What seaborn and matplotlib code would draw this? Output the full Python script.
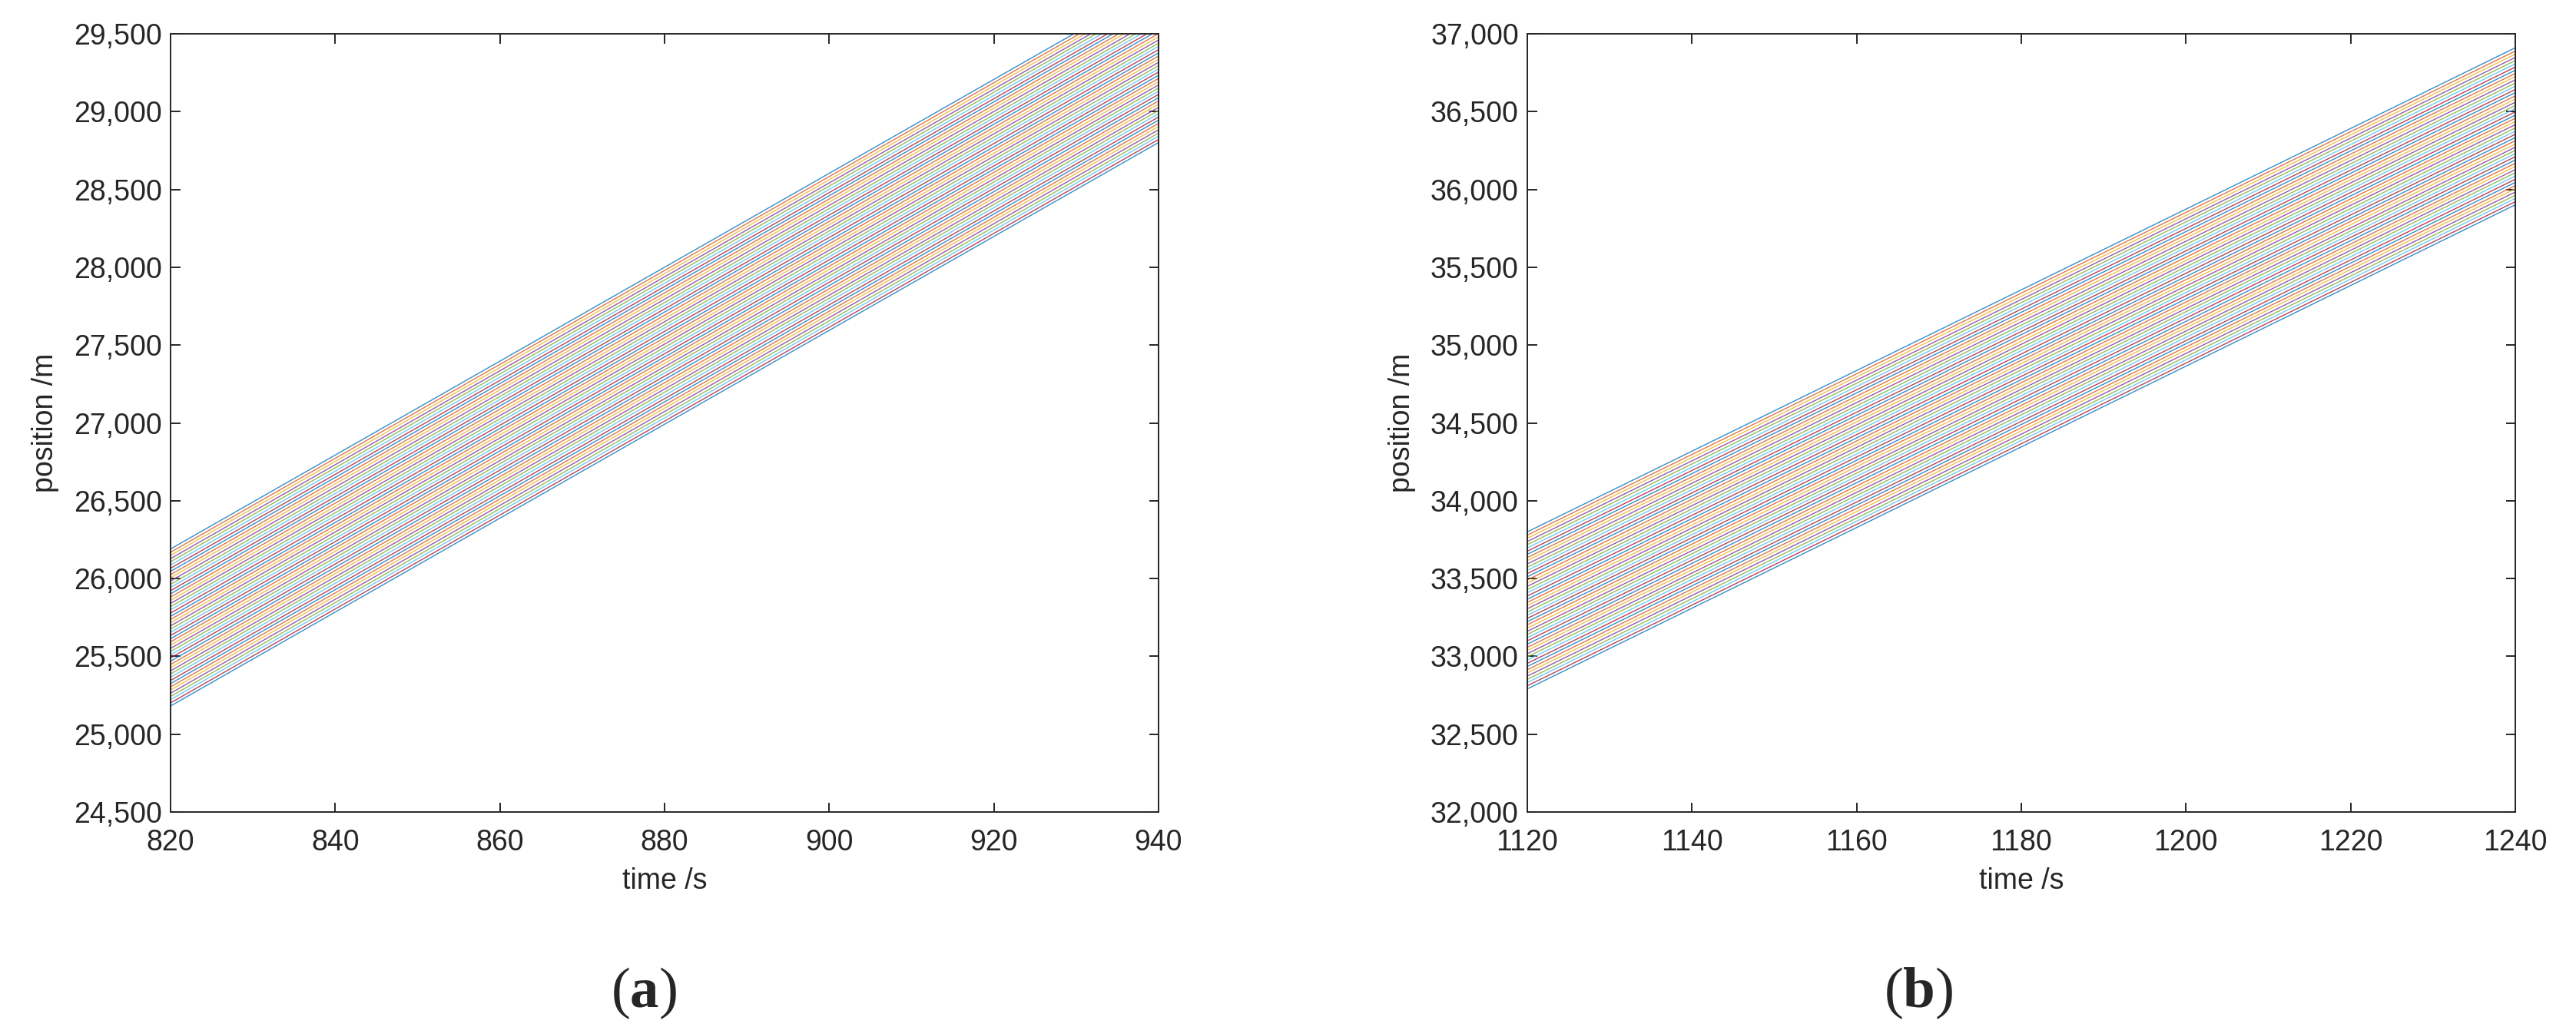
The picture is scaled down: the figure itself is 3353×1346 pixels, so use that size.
import pandas as pd
import seaborn as sns
import matplotlib.pyplot as plt
from matplotlib.ticker import StrMethodFormatter

# panel (a): vehicle positions read at the left (820 s) and right (940 s) edges
time_a = [820, 940]
start_a = [26190, 26169, 26149, 26128, 26108, 26087, 26066, 26046, 26025, 26005,
           25984, 25963, 25943, 25922, 25902, 25881, 25860, 25840, 25819, 25799,
           25778, 25757, 25737, 25716, 25696, 25675, 25654, 25634, 25613, 25593,
           25572, 25551, 25531, 25510, 25490, 25469, 25448, 25428, 25407, 25387,
           25366, 25345, 25325, 25304, 25284, 25263, 25242, 25222, 25201, 25181]
end_a = [29810, 29789, 29769, 29748, 29728, 29707, 29686, 29666, 29645, 29625,
         29604, 29583, 29563, 29542, 29522, 29501, 29480, 29460, 29439, 29419,
         29398, 29377, 29357, 29336, 29316, 29295, 29274, 29254, 29233, 29213,
         29192, 29171, 29151, 29130, 29110, 29089, 29068, 29048, 29027, 29007,
         28986, 28965, 28945, 28924, 28904, 28883, 28862, 28842, 28821, 28801]

# panel (b): positions at 1120 s and 1240 s
time_b = [1120, 1240]
start_b = [33800, 33779, 33759, 33738, 33718, 33697, 33676, 33656, 33635, 33615,
           33594, 33573, 33553, 33532, 33512, 33491, 33470, 33450, 33429, 33409,
           33388, 33367, 33347, 33326, 33306, 33285, 33264, 33244, 33223, 33203,
           33182, 33161, 33141, 33120, 33100, 33079, 33058, 33038, 33017, 32997,
           32976, 32955, 32935, 32914, 32894, 32873, 32852, 32832, 32811, 32791]
end_b = [36910, 36889, 36869, 36848, 36828, 36807, 36786, 36766, 36745, 36725,
         36704, 36683, 36663, 36642, 36622, 36601, 36580, 36560, 36539, 36519,
         36498, 36477, 36457, 36436, 36416, 36395, 36374, 36354, 36333, 36313,
         36292, 36271, 36251, 36230, 36210, 36189, 36168, 36148, 36127, 36107,
         36086, 36065, 36045, 36024, 36004, 35983, 35962, 35942, 35921, 35901]

xticks_a = [820, 840, 860, 880, 900, 920, 940]
yticks_a = [24500, 25000, 25500, 26000, 26500, 27000, 27500, 28000, 28500, 29000, 29500]
xticks_b = [1120, 1140, 1160, 1180, 1200, 1220, 1240]
yticks_b = [32000, 32500, 33000, 33500, 34000, 34500, 35000, 35500, 36000, 36500, 37000]

matlab_colors = ["#0072BD", "#D95319", "#EDB120", "#7E2F8E", "#77AC30", "#4DBEEE", "#A2142F"]


def to_long(times, start, end):
    rows = []
    for i, (p0, p1) in enumerate(zip(start, end)):
        rows.append({"vehicle": i, "time": times[0], "position": p0})
        rows.append({"vehicle": i, "time": times[1], "position": p1})
    return pd.DataFrame(rows)


df_a = to_long(time_a, start_a, end_a)
df_b = to_long(time_b, start_b, end_b)

sns.set_style("ticks")
plt.rcParams["font.family"] = ["Liberation Sans", "DejaVu Sans"]
plt.rcParams["mathtext.fontset"] = "custom"
plt.rcParams["mathtext.rm"] = "Liberation Serif"
plt.rcParams["mathtext.bf"] = "Liberation Serif:bold"

ink = "#262626"
fig = plt.figure(figsize=(16.765, 6.73), dpi=200)
ax_a = fig.add_axes([0.0662, 0.2147, 0.3835, 0.7526])
ax_b = fig.add_axes([0.5929, 0.2147, 0.3835, 0.7526])

panels = [
    (ax_a, df_a, xticks_a, yticks_a),
    (ax_b, df_b, xticks_b, yticks_b),
]

for ax, df, xt, yt in panels:
    n = df["vehicle"].nunique()
    pal = [matlab_colors[i % len(matlab_colors)] for i in range(n)]
    sns.lineplot(data=df, x="time", y="position", hue="vehicle", palette=pal,
                 linewidth=0.5, alpha=0.8, legend=False, ax=ax, estimator=None, sort=False)
    ax.set_xlim(xt[0], xt[-1])
    ax.set_ylim(yt[0], yt[-1])
    ax.set_xticks(xt)
    ax.set_yticks(yt)
    ax.yaxis.set_major_formatter(StrMethodFormatter("{x:,.0f}"))
    ax.tick_params(direction="in", length=4.5, width=0.7, colors=ink, labelsize=13.5,
                   top=True, right=True, labelcolor=ink)
    ax.tick_params(axis="x", pad=8)
    ax.tick_params(axis="y", pad=4)
    for sp in ax.spines.values():
        sp.set_visible(True)
        sp.set_color(ink)
        sp.set_linewidth(0.7)
    ax.set_xlabel("time /s", fontsize=13.5, color=ink, labelpad=5)
    ax.set_ylabel("position /m", fontsize=13.5, color=ink, labelpad=7)

fig.text(838 / 3353, 1 - 1293 / 1346, r"($\mathbf{a}$)", ha="center", va="center",
         fontsize=27, family="Liberation Serif")
fig.text(2497 / 3353, 1 - 1293 / 1346, r"($\mathbf{b}$)", ha="center", va="center",
         fontsize=27, family="Liberation Serif")

fig.savefig("out.png", dpi=200)
